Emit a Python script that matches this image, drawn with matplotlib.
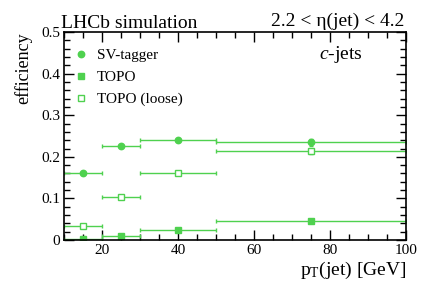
import matplotlib
matplotlib.use("Agg")
import matplotlib.pyplot as plt
from matplotlib.ticker import MultipleLocator
from matplotlib.lines import Line2D
import numpy as np

plt.rcParams['font.family'] = ['Liberation Serif', 'DejaVu Serif']
plt.rcParams['mathtext.fontset'] = 'custom'
plt.rcParams['mathtext.rm'] = 'Liberation Serif'
plt.rcParams['mathtext.it'] = 'Liberation Serif:italic'

bin_lo = [10, 20, 30, 50]
bin_hi = [20, 30, 50, 100]
sv_eff = [0.162, 0.226, 0.241, 0.235]
sv_err = [0.002, 0.003, 0.003, 0.008]
topo_eff = [0.003, 0.011, 0.024, 0.046]
topo_err = [0.001, 0.002, 0.002, 0.003]
loose_eff = [0.034, 0.103, 0.162, 0.213]
loose_err = [0.002, 0.003, 0.003, 0.006]

green = '#4fd14f'

lo = np.array(bin_lo); hi = np.array(bin_hi)
xc = (lo + hi) / 2
xe = (hi - lo) / 2

fig = plt.figure(figsize=(4.27, 2.90), dpi=100)
ax = fig.add_axes([0.150, 0.172, 0.801, 0.718])

kw = dict(color=green, ecolor=green, elinewidth=1.0, capsize=1.5, capthick=1.0, linestyle='none', markersize=4.6)
ax.errorbar(xc, sv_eff, xerr=xe, yerr=sv_err, marker='o', **kw)
ax.errorbar(xc, topo_eff, xerr=xe, yerr=topo_err, marker='s', **kw)
ax.errorbar(xc, loose_eff, xerr=xe, yerr=loose_err, marker='s', markerfacecolor='white',
            markeredgecolor=green, markeredgewidth=1.0, **kw)

ax.set_xlim(10, 100)
ax.set_ylim(0, 0.5)
ax.xaxis.set_major_locator(MultipleLocator(20))
ax.xaxis.set_minor_locator(MultipleLocator(5))
ax.yaxis.set_major_locator(MultipleLocator(0.1))
ax.yaxis.set_minor_locator(MultipleLocator(0.02))
ax.set_yticks([0, 0.1, 0.2, 0.3, 0.4, 0.5])
ax.set_yticklabels(['0', '0.1', '0.2', '0.3', '0.4', '0.5'])
ax.tick_params(which='both', direction='in', top=True, right=True, labelsize=11, width=1.0, pad=3)
ax.tick_params(which='major', length=7)
ax.tick_params(which='minor', length=4)
for s in ax.spines.values():
    s.set_linewidth(1.2)

ax.set_ylabel('efficiency', fontsize=13, loc='top', labelpad=6)
ax.set_xlabel(r'p$_{\mathrm{T}}$(jet) [GeV]', fontsize=14, loc='right', labelpad=2)

fig.text(0.143, 0.905, 'LHCb simulation', fontsize=14, ha='left', va='baseline')
fig.text(0.948, 0.912, '2.2 < η(jet) < 4.2', fontsize=14, ha='right', va='baseline')
ax.text(0.872, 0.870, r'$c$-jets', transform=ax.transAxes, fontsize=14, ha='right', va='baseline')

handles = [
    Line2D([], [], color=green, marker='o', linestyle='none', markersize=4.6),
    Line2D([], [], color=green, marker='s', linestyle='none', markersize=4.6),
    Line2D([], [], color=green, marker='s', linestyle='none', markersize=4.6,
           markerfacecolor='white', markeredgecolor=green, markeredgewidth=1.0),
]
labels = ['SV-tagger', 'TOPO', 'TOPO (loose)']
leg = ax.legend(handles, labels, loc='upper left', bbox_to_anchor=(0.0, 0.965), frameon=False,
                fontsize=11, handlelength=1.0, handletextpad=0.55, labelspacing=0.55,
                borderaxespad=0.3, borderpad=0.3)

fig.savefig('out.png', dpi=100)
